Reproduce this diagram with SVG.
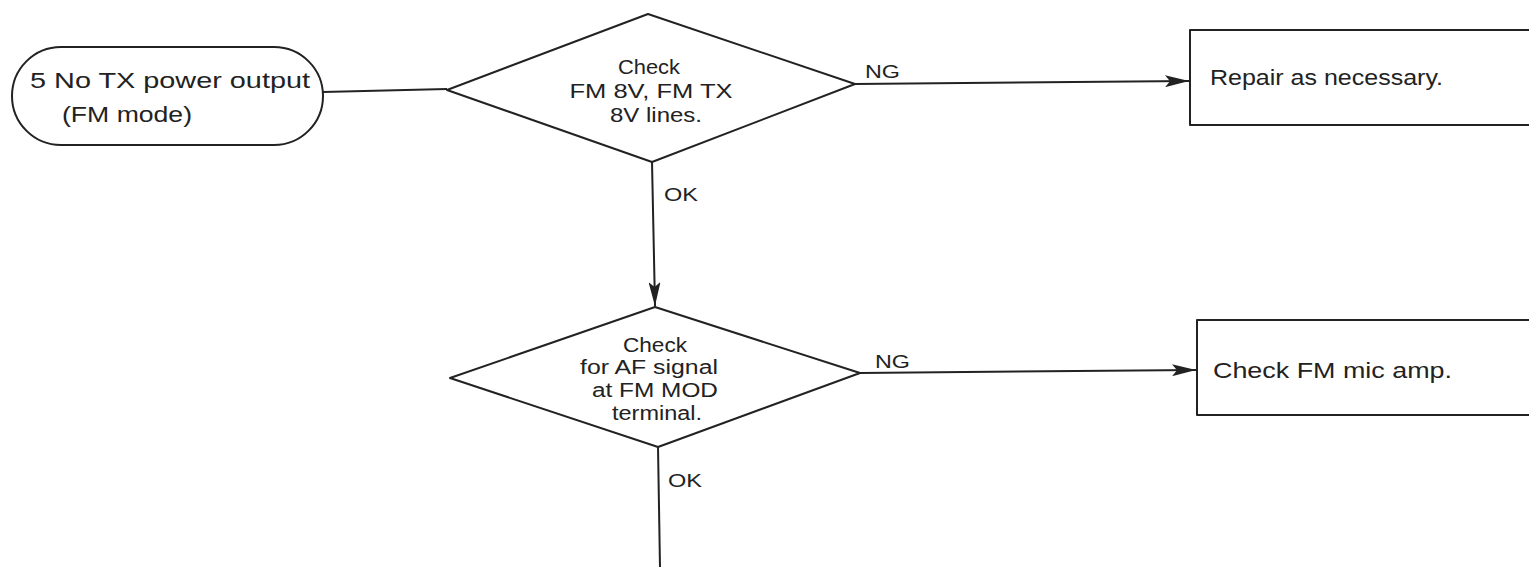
<svg xmlns="http://www.w3.org/2000/svg" width="1529" height="567" viewBox="0 0 1529 567">
<defs>
<style>
.s{fill:#fff;stroke:#222;stroke-width:2;stroke-linejoin:round}
.c{fill:none;stroke:#222;stroke-width:2}
text{font-family:"Liberation Sans",Arial,sans-serif;fill:#222}
.t{font-size:22px}
.d{font-size:20px;text-anchor:middle}
.l{font-size:18px}
</style>
<marker id="arr" viewBox="0 0 24 12" refX="24" refY="6" markerWidth="24" markerHeight="12" markerUnits="userSpaceOnUse" orient="auto">
<path d="M0,0 L24,6 L0,12 L5,6 Z" fill="#222"/>
</marker>
</defs>
<rect width="1529" height="567" fill="#fff"/>
<g id="connectors">
<path class="c" d="M323,92 L447,89"/>
<path class="c" d="M855,84 L1189,81" marker-end="url(#arr)"/>
<path class="c" d="M652,162 L655,306" marker-end="url(#arr)"/>
<path class="c" d="M860,373 L1196,370" marker-end="url(#arr)"/>
<path class="c" d="M658,447 L660,567"/>
<text class="l" x="865" y="78" textLength="35" lengthAdjust="spacingAndGlyphs">NG</text>
<text class="l" x="664" y="201" textLength="34" lengthAdjust="spacingAndGlyphs">OK</text>
<text class="l" x="875" y="368" textLength="35" lengthAdjust="spacingAndGlyphs">NG</text>
<text class="l" x="668" y="487" textLength="34" lengthAdjust="spacingAndGlyphs">OK</text>
</g>
<g id="start">
<rect class="s" x="12" y="47" width="311" height="98" rx="49" ry="49"/>
<text class="t" x="30" y="88" textLength="280" lengthAdjust="spacingAndGlyphs">5 No TX power output</text>
<text class="t" x="62" y="122" textLength="130" lengthAdjust="spacingAndGlyphs">(FM mode)</text>
</g>
<g id="check1">
<polygon class="s" points="447,90 648,14 855,84 652,162"/>
<text class="d" x="649" y="74" textLength="62" lengthAdjust="spacingAndGlyphs">Check</text>
<text class="d" x="651" y="98" textLength="163" lengthAdjust="spacingAndGlyphs">FM 8V, FM TX</text>
<text class="d" x="656" y="122" textLength="92" lengthAdjust="spacingAndGlyphs">8V lines.</text>
</g>
<g id="repair">
<rect class="s" x="1190" y="30" width="360" height="95"/>
<text class="t" x="1210" y="85" textLength="233" lengthAdjust="spacingAndGlyphs">Repair as necessary.</text>
</g>
<g id="check2">
<polygon class="s" points="450,378 655,307 860,373 658,447"/>
<text class="d" x="655" y="352" textLength="64" lengthAdjust="spacingAndGlyphs">Check</text>
<text class="d" x="649" y="374" textLength="138" lengthAdjust="spacingAndGlyphs">for AF signal</text>
<text class="d" x="655" y="397" textLength="126" lengthAdjust="spacingAndGlyphs">at FM MOD</text>
<text class="d" x="657" y="420" textLength="90" lengthAdjust="spacingAndGlyphs">terminal.</text>
</g>
<g id="micamp">
<rect class="s" x="1197" y="320" width="360" height="95"/>
<text class="t" x="1213" y="378" textLength="239" lengthAdjust="spacingAndGlyphs">Check FM mic amp.</text>
</g>
</svg>
